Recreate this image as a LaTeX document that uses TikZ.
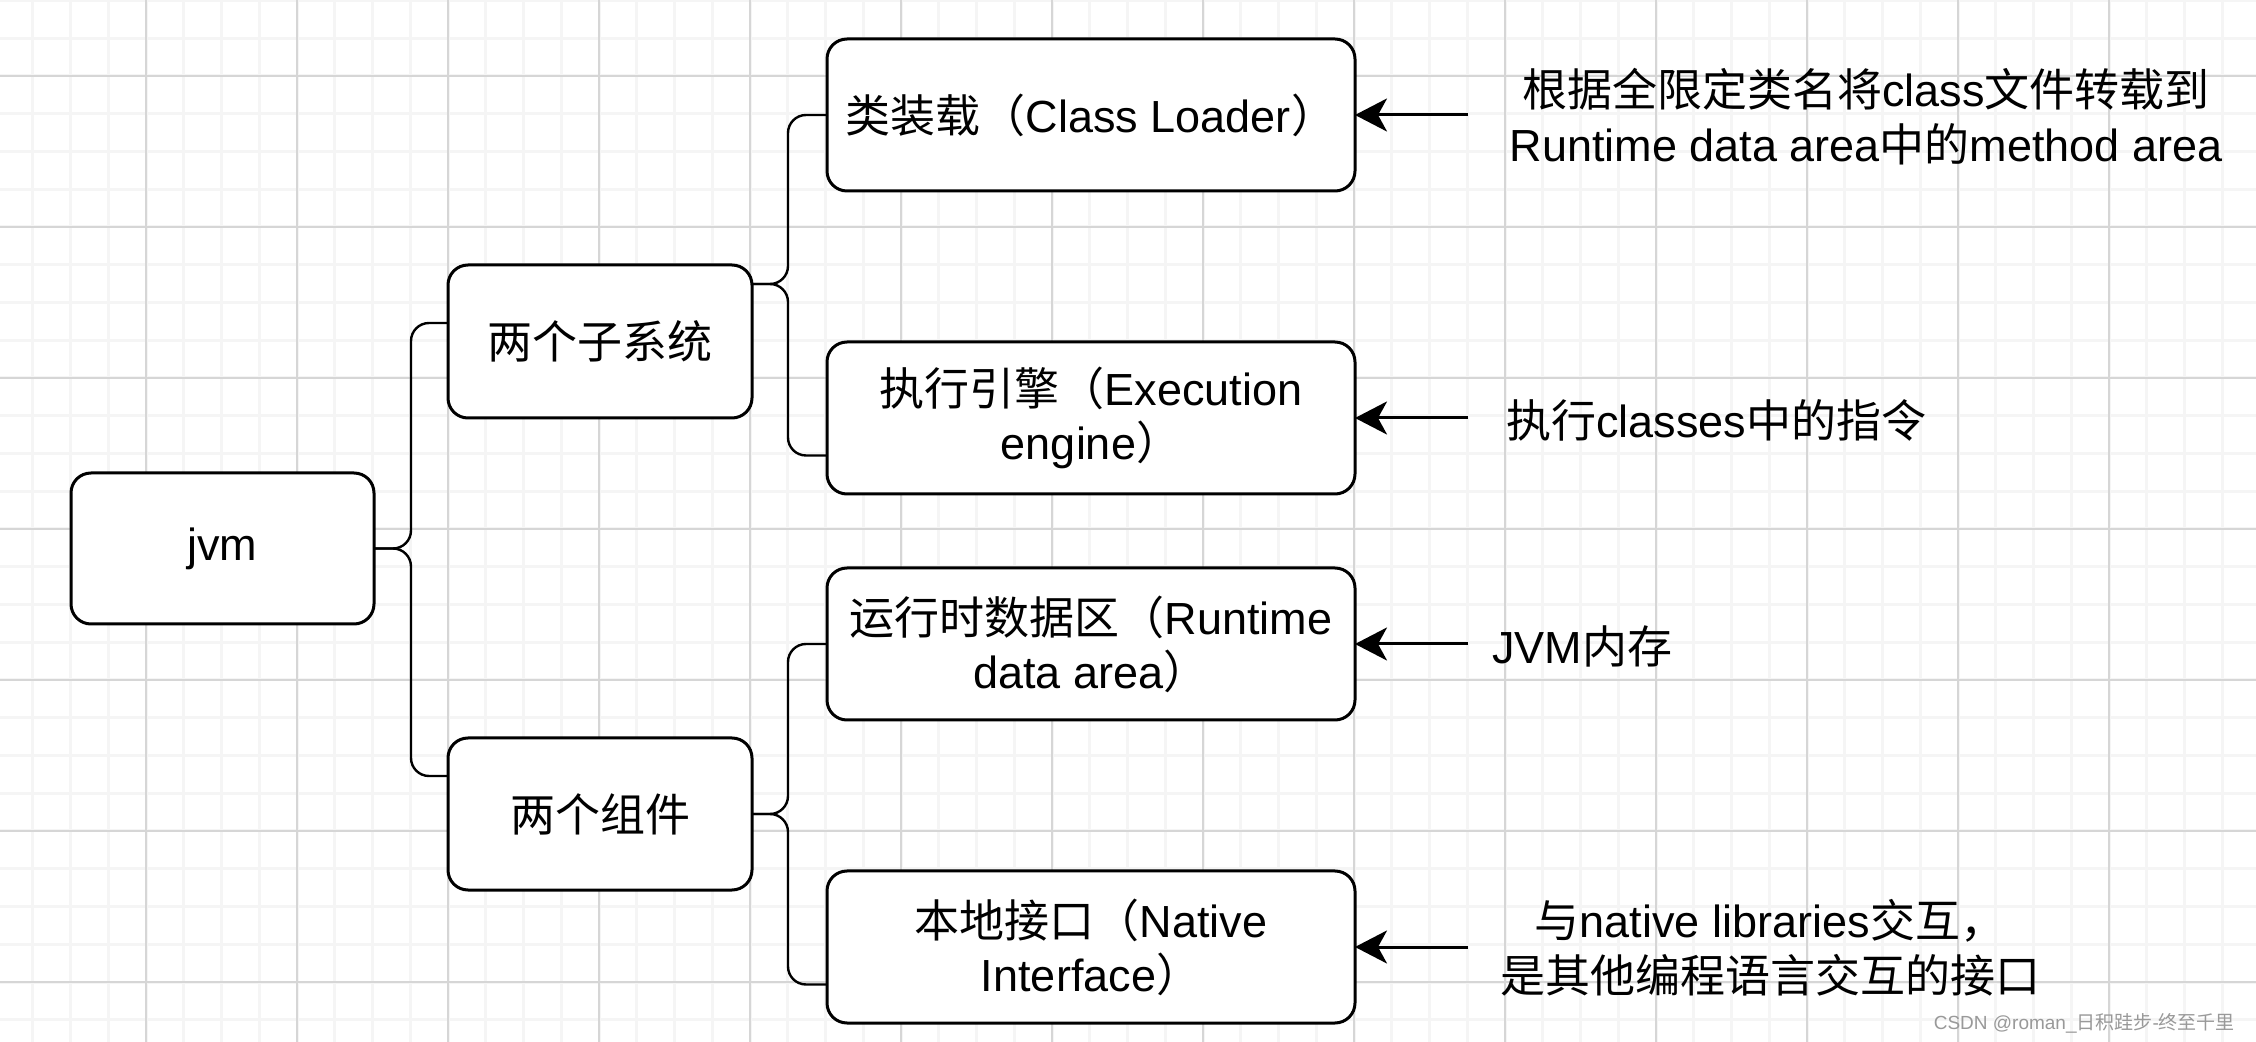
\documentclass[tikz,border=0pt]{standalone}
\usepackage{fontspec}
\setmainfont{Liberation Sans}
\newfontfamily\zhfont{Noto Sans CJK SC}
\newcommand\zh[1]{{\zhfont #1}}
\usetikzlibrary{positioning, arrows.meta}
\tikzset{
    gridminor/.style={line width=1.5pt, black!4},
    gridmajor/.style={line width=0.75pt, black!16},
    brace/.style={line width=1.2pt, rounded corners=9pt},
    pointer/.style={-{Stealth[length=16pt, width=16.5pt, inset=4.5pt]}, line width=1.5pt}
}

\begin{document}
\begin{tikzpicture}[
    x=0.5pt, y=-0.5pt,
    % boxes of the mind map
    branch/.style={
        rectangle, rounded corners=10pt, draw, line width=1.5pt,
        fill=white, align=center, inner sep=0pt, outer sep=0pt,
        minimum width=152pt, minimum height=76pt,
        font=\fontsize{22.5}{27}\selectfont
    },
    leaf/.style={branch, minimum width=264pt},
    note/.style={align=center, inner sep=0pt, font=\fontsize{22.5}{27.5}\selectfont}
]

    % 0. BACKGROUND GRID
    \fill[white] (0,0) rectangle (2256,1042);
    \begin{scope}
        \clip (0,0) rectangle (2256,1042);
        \foreach \i in {0,...,60}
            \draw[gridminor] ({-5+37.75*\i},0) -- ({-5+37.75*\i},1042);
        \foreach \i in {0,...,28}
            \draw[gridminor] (0,{0.5+37.75*\i}) -- (2256,{0.5+37.75*\i});
        \foreach \i in {0,...,15}
            \draw[gridmajor] ({-5+151*\i},0) -- ({-5+151*\i},1042);
        \foreach \i in {0,...,7}
            \draw[gridmajor] (0,{76+151*\i}) -- (2256,{76+151*\i});
    \end{scope}
    \useasboundingbox (0,0) rectangle (2256,1042);

    % 1. ROOT AND FIRST LEVEL
    \node[branch, minimum width=151.5pt, minimum height=75.5pt] (jvm) at (222.5,548.5) {jvm};
    \node[branch, minimum height=76.5pt, above right=27.5pt and 37pt of jvm] (sub) {\zh{两个子系统}};
    \node[branch, below right=57pt and 37pt of jvm] (comp) {\zh{两个组件}};

    % 2. SECOND LEVEL
    \node[leaf] (loader) at (1091,115) {\zh{类装载（}Class Loader\zh{）}};
    \node[leaf, below=75.5pt of loader] (exec) {\zh{执行引擎（}Execution\\engine\zh{）}};
    \node[leaf, below=37pt of exec] (runtime) {\zh{运行时数据区（}Runtime\\data area\zh{）}};
    \node[leaf, below=75.5pt of runtime] (native) {\zh{本地接口（}Native\\Interface\zh{）}};

    % 3. BRACES
    \draw[brace] (jvm.east) -- ++(18.5pt,0) |- ([yshift=9.25pt]sub.west);
    \draw[brace] (jvm.east) -- ++(18.5pt,0) |- ([yshift=19pt]comp.west);
    \draw[brace] ([yshift=28.75pt]sub.east) -- ++(18pt,0) |- (loader.west);
    \draw[brace] ([yshift=28.75pt]sub.east) -- ++(18pt,0) |- ([yshift=-18.75pt]exec.west);
    \draw[brace] (comp.east) -- ++(18pt,0) |- (runtime.west);
    \draw[brace] (comp.east) -- ++(18pt,0) |- ([yshift=-18.75pt]native.west);

    % 4. NOTES ON THE RIGHT
    \node[note] (n1) at (1866,117) {\zh{根据全限定类名将}class\zh{文件转载到}\\Runtime data area\zh{中的}method area};
    \node[note, anchor=west] (n2) at (1506,420) {\zh{执行}classes\zh{中的指令}};
    \node[note, anchor=west] (n3) at (1492,646) {JVM\zh{内存}};
    \node[note] (n4) at (1770,948) {\zh{与}native libraries\zh{交互，}\\\zh{是其他编程语言交互的接口}};
    \foreach \b in {loader, exec, runtime, native}
        \draw[pointer] ([xshift=56.5pt]\b.east) -- (\b.east);

    % 5. WATERMARK
    \node[font=\fontsize{9.5}{11}\selectfont, text=black!40, anchor=east] (mark) at (2242,1023)
        {CSDN @roman\_\zh{日积跬步}-\zh{终至千里}};

\end{tikzpicture}
\end{document}
